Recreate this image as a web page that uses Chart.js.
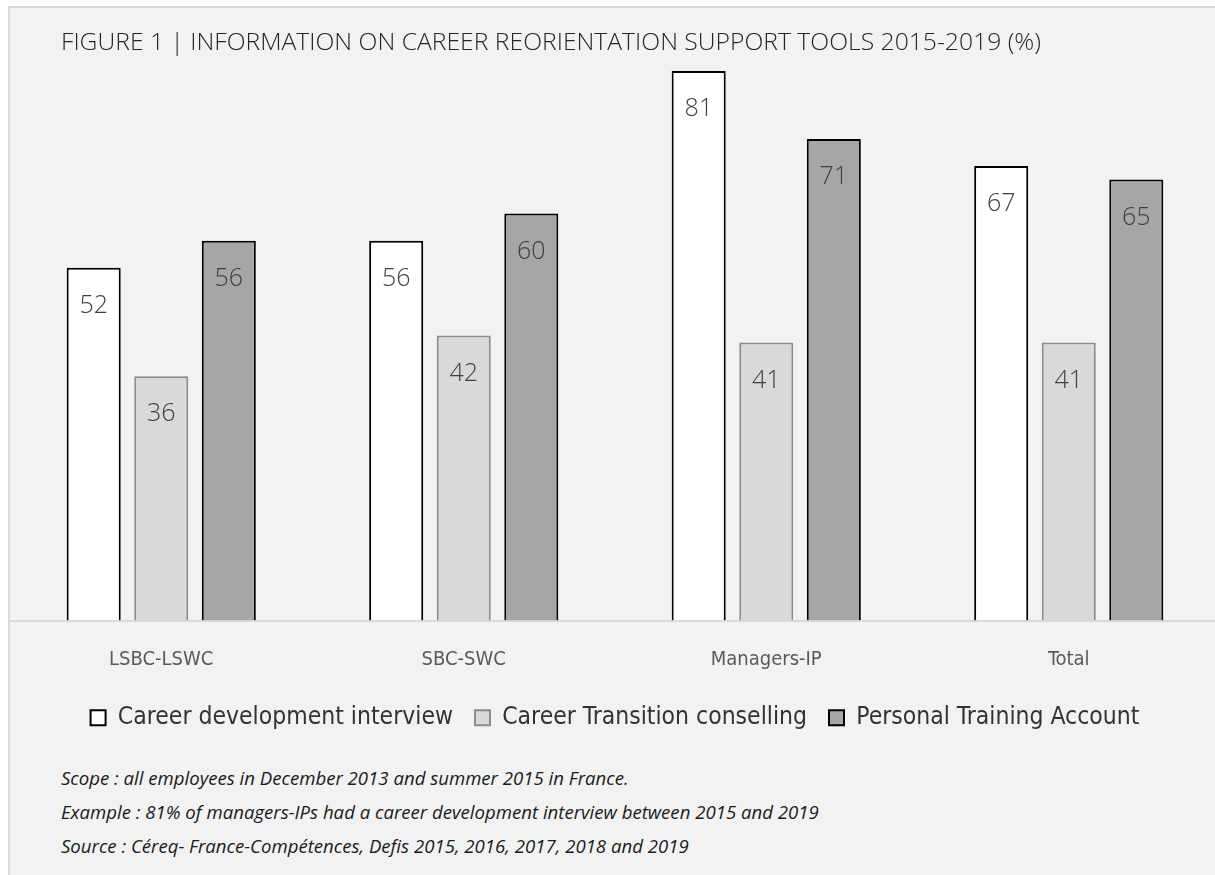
<!DOCTYPE html>
<html>
<head>
<meta charset="utf-8">
<script src="https://cdn.jsdelivr.net/npm/chart.js@4.4.1/dist/chart.umd.min.js"></script>
<style>
  html, body { margin: 0; padding: 0; background: #fff; overflow: hidden; }
  #frame {
    position: absolute; left: 8px; top: 6px; width: 1207px; height: 869px;
    background: #f2f2f2; border-left: 2px solid #d9d9d9; border-top: 2px solid #d9d9d9;
  }
  #title {
    position: absolute; left: 61px; top: 24px; font-family: "Open Sans", sans-serif;
    font-weight: 300; font-size: 24.7px; color: #262626; white-space: nowrap;
  }
  #wrap { position: absolute; left: 10px; top: 0; width: 1210px; height: 740px; }
  .note {
    position: absolute; left: 61px; font-family: "Open Sans", sans-serif; font-style: italic;
    font-size: 18.6px; color: #1a1a1a; white-space: nowrap;
  }
</style>
</head>
<body>
<div id="frame"></div>
<div id="wrap"><canvas id="chart"></canvas></div>
<div id="title">FIGURE 1 | INFORMATION ON CAREER REORIENTATION SUPPORT TOOLS 2015-2019 (%)</div>
<div class="note" style="top:765px">Scope : all employees in December 2013 and summer 2015 in France.</div>
<div class="note" style="top:799px">Example : 81% of managers-IPs had a career development interview between 2015 and 2019</div>
<div class="note" style="top:833px">Source : Céreq- France-Compétences, Defis 2015, 2016, 2017, 2018 and 2019</div>
<script>
// ── DATA ───────────────────────────────────────
const categories  = ['LSBC-LSWC', 'SBC-SWC', 'Managers-IP', 'Total'];
const seriesNames = ['Career development interview', 'Career Transition conselling', 'Personal Training Account'];
const interview   = [52, 56, 81, 67];
const transition  = [36, 42, 41, 41];
const training    = [56, 60, 71, 65];

// "condensed" goes in the weight slot so the canvas font shorthand picks the narrow face
const CONDENSED = '"DejaVu Sans Condensed", "DejaVu Sans", sans-serif';

// value labels drawn inside the top of each bar
const barLabels = {
  id: 'barLabels',
  afterDatasetsDraw(chart) {
    const ctx = chart.ctx;
    ctx.save();
    ctx.font = '300 25px "Open Sans", sans-serif';
    ctx.fillStyle = '#404040';
    ctx.textAlign = 'center';
    ctx.textBaseline = 'middle';
    chart.data.datasets.forEach((ds, i) => {
      chart.getDatasetMeta(i).data.forEach((bar, j) => {
        ctx.fillText(ds.data[j], bar.x, bar.y + 38);
      });
    });
    ctx.restore();
  }
};

new Chart(document.getElementById('chart'), {
  type: 'bar',
  data: {
    labels: categories,
    datasets: [
      { label: seriesNames[0], data: interview,  backgroundColor: '#ffffff', borderColor: '#000000', borderWidth: 2 },
      { label: seriesNames[1], data: transition, backgroundColor: '#d9d9d9', borderColor: '#8c8c8c', borderWidth: 2 },
      { label: seriesNames[2], data: training,   backgroundColor: '#a6a6a6', borderColor: '#000000', borderWidth: 2 }
    ]
  },
  options: {
    responsive: true,
    maintainAspectRatio: false,
    animation: false,
    layout: { padding: { top: 10, left: 0, right: 0, bottom: 0 } },
    datasets: { bar: { categoryPercentage: 0.67, barPercentage: 0.8, borderSkipped: 'bottom' } },
    plugins: {
      legend: {
        position: 'bottom',
        labels: {
          font: { family: CONDENSED, size: 24.5, weight: 'condensed' },
          color: '#333333',
          boxWidth: 15, boxHeight: 15,
          padding: 22
        }
      },
      tooltip: { enabled: false }
    },
    scales: {
      y: { display: false, min: 0, max: 90 },
      x: {
        afterFit: (scale) => { scale.height = 63; },
        grid: { display: false },
        border: { color: '#d9d9d9', width: 2 },
        ticks: { font: { family: CONDENSED, size: 20, weight: 'condensed' }, color: '#595959', padding: 19 }
      }
    }
  },
  plugins: [barLabels]
});
</script>
</body>
</html>
